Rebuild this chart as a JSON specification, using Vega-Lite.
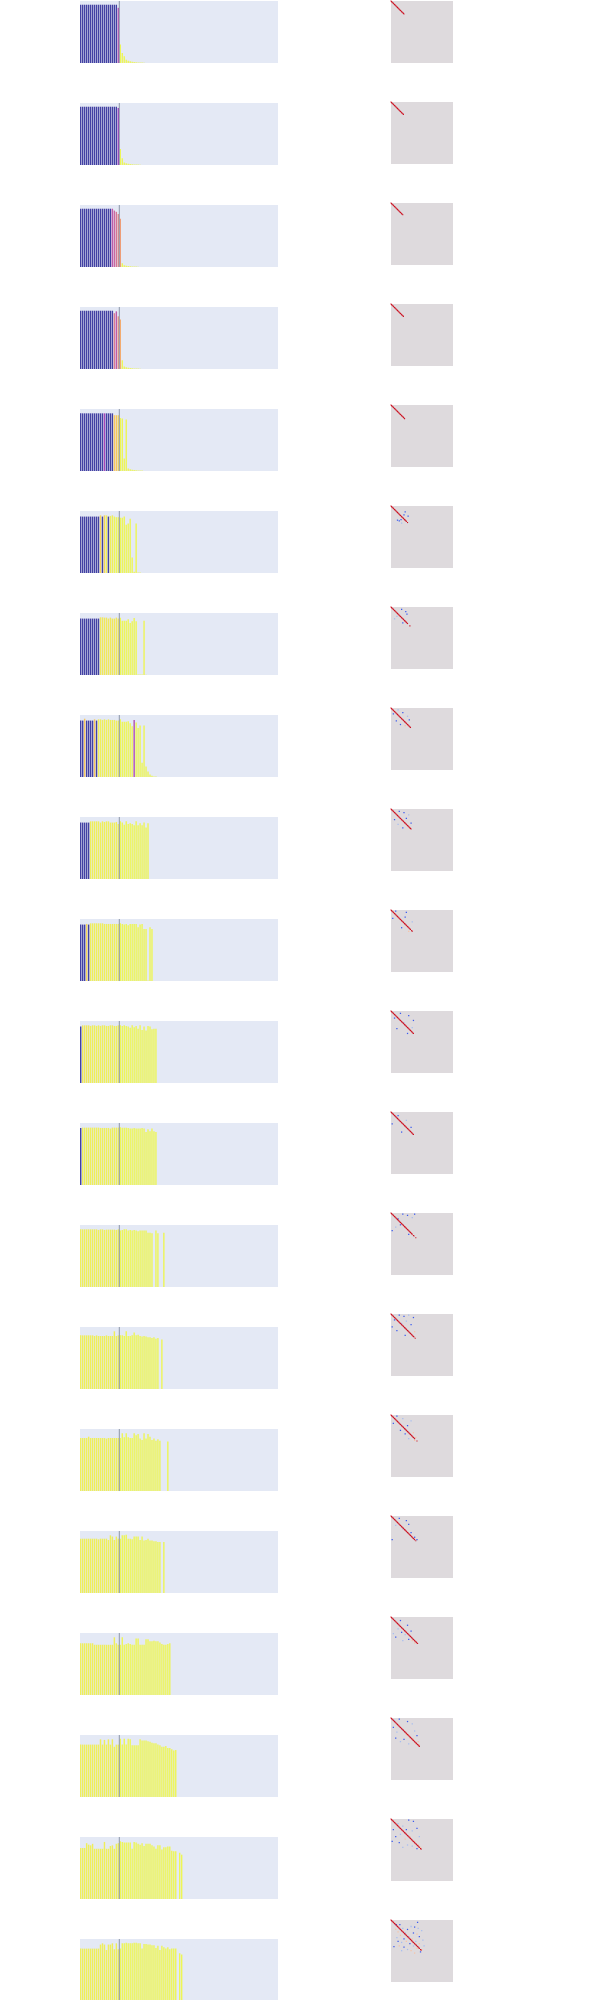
{
"$schema":"https://vega.github.io/schema/vega-lite/v6.json",
"background":"#ffffff",
"padding":{"left":80,"top":0,"right":0,"bottom":0},
"config":{"view":{"stroke":null}},
"resolve":{"scale":{"color":"independent"}},
"spacing":112,
"data":{"values":[
{"r":1,"i":0,"v":0.94,"c":0},{"r":1,"i":1,"v":0.94,"c":0},{"r":1,"i":2,"v":0.94,"c":0},{"r":1,"i":3,"v":0.94,"c":0},{"r":1,"i":4,"v":0.94,"c":0},{"r":1,"i":5,"v":0.94,"c":0},{"r":1,"i":6,"v":0.94,"c":0},{"r":1,"i":7,"v":0.94,"c":0},{"r":1,"i":8,"v":0.94,"c":0},{"r":1,"i":9,"v":0.94,"c":0},{"r":1,"i":10,"v":0.94,"c":0},{"r":1,"i":11,"v":0.94,"c":0},{"r":1,"i":12,"v":0.94,"c":0},{"r":1,"i":13,"v":0.94,"c":0},{"r":1,"i":14,"v":0.94,"c":0},{"r":1,"i":15,"v":0.94,"c":0},{"r":1,"i":16,"v":0.94,"c":0},{"r":1,"i":17,"v":0.94,"c":0},{"r":1,"i":18,"v":0.94,"c":0},{"r":1,"i":19,"v":0.89,"c":0.35},{"r":1,"i":20,"v":0.3,"c":1},{"r":1,"i":21,"v":0.16,"c":1},{"r":1,"i":22,"v":0.11,"c":1},{"r":1,"i":23,"v":0.054,"c":1},{"r":1,"i":24,"v":0.038,"c":1},{"r":1,"i":25,"v":0.027,"c":1},{"r":1,"i":26,"v":0.02,"c":1},{"r":1,"i":27,"v":0.016,"c":1},{"r":1,"i":28,"v":0.012,"c":1},{"r":1,"i":29,"v":0.01,"c":1},{"r":1,"i":30,"v":0.008,"c":1},{"r":1,"i":31,"v":0.007,"c":1},{"r":1,"i":32,"v":0.006,"c":1},
{"r":2,"i":0,"v":0.94,"c":0},{"r":2,"i":1,"v":0.94,"c":0},{"r":2,"i":2,"v":0.94,"c":0},{"r":2,"i":3,"v":0.94,"c":0},{"r":2,"i":4,"v":0.94,"c":0},{"r":2,"i":5,"v":0.94,"c":0},{"r":2,"i":6,"v":0.94,"c":0},{"r":2,"i":7,"v":0.94,"c":0},{"r":2,"i":8,"v":0.94,"c":0},{"r":2,"i":9,"v":0.94,"c":0},{"r":2,"i":10,"v":0.94,"c":0},{"r":2,"i":11,"v":0.94,"c":0},{"r":2,"i":12,"v":0.94,"c":0},{"r":2,"i":13,"v":0.94,"c":0},{"r":2,"i":14,"v":0.94,"c":0},{"r":2,"i":15,"v":0.94,"c":0},{"r":2,"i":16,"v":0.94,"c":0},{"r":2,"i":17,"v":0.94,"c":0},{"r":2,"i":18,"v":0.94,"c":0},{"r":2,"i":19,"v":0.92,"c":0.25},{"r":2,"i":20,"v":0.26,"c":1},{"r":2,"i":21,"v":0.11,"c":1},{"r":2,"i":22,"v":0.04,"c":1},{"r":2,"i":23,"v":0.027,"c":1},{"r":2,"i":24,"v":0.02,"c":1},{"r":2,"i":25,"v":0.015,"c":1},{"r":2,"i":26,"v":0.012,"c":1},{"r":2,"i":27,"v":0.01,"c":1},{"r":2,"i":28,"v":0.008,"c":1},{"r":2,"i":29,"v":0.007,"c":1},{"r":2,"i":30,"v":0.006,"c":1},
{"r":3,"i":0,"v":0.94,"c":0},{"r":3,"i":1,"v":0.94,"c":0},{"r":3,"i":2,"v":0.94,"c":0},{"r":3,"i":3,"v":0.94,"c":0},{"r":3,"i":4,"v":0.94,"c":0},{"r":3,"i":5,"v":0.94,"c":0},{"r":3,"i":6,"v":0.94,"c":0},{"r":3,"i":7,"v":0.94,"c":0},{"r":3,"i":8,"v":0.94,"c":0},{"r":3,"i":9,"v":0.94,"c":0},{"r":3,"i":10,"v":0.94,"c":0},{"r":3,"i":11,"v":0.94,"c":0},{"r":3,"i":12,"v":0.94,"c":0},{"r":3,"i":13,"v":0.94,"c":0},{"r":3,"i":14,"v":0.94,"c":0},{"r":3,"i":15,"v":0.94,"c":0},{"r":3,"i":16,"v":0.94,"c":0.4},{"r":3,"i":17,"v":0.91,"c":0.45},{"r":3,"i":18,"v":0.89,"c":0.52},{"r":3,"i":19,"v":0.855,"c":0.6},{"r":3,"i":20,"v":0.78,"c":0.7},{"r":3,"i":21,"v":0.06,"c":1},{"r":3,"i":22,"v":0.03,"c":1},{"r":3,"i":23,"v":0.02,"c":1},{"r":3,"i":24,"v":0.015,"c":1},{"r":3,"i":25,"v":0.012,"c":1},{"r":3,"i":26,"v":0.01,"c":1},{"r":3,"i":27,"v":0.008,"c":1},{"r":3,"i":28,"v":0.007,"c":1},{"r":3,"i":29,"v":0.006,"c":1},
{"r":4,"i":0,"v":0.94,"c":0},{"r":4,"i":1,"v":0.94,"c":0},{"r":4,"i":2,"v":0.94,"c":0},{"r":4,"i":3,"v":0.94,"c":0},{"r":4,"i":4,"v":0.94,"c":0},{"r":4,"i":5,"v":0.94,"c":0},{"r":4,"i":6,"v":0.94,"c":0},{"r":4,"i":7,"v":0.94,"c":0},{"r":4,"i":8,"v":0.94,"c":0},{"r":4,"i":9,"v":0.94,"c":0},{"r":4,"i":10,"v":0.94,"c":0},{"r":4,"i":11,"v":0.94,"c":0},{"r":4,"i":12,"v":0.94,"c":0},{"r":4,"i":13,"v":0.94,"c":0},{"r":4,"i":14,"v":0.94,"c":0},{"r":4,"i":15,"v":0.94,"c":0},{"r":4,"i":16,"v":0.94,"c":0},{"r":4,"i":17,"v":0.9,"c":0.55},{"r":4,"i":18,"v":0.93,"c":0.4},{"r":4,"i":19,"v":0.85,"c":0.65},{"r":4,"i":20,"v":0.8,"c":0.75},{"r":4,"i":21,"v":0.14,"c":1},{"r":4,"i":22,"v":0.04,"c":1},{"r":4,"i":23,"v":0.027,"c":1},{"r":4,"i":24,"v":0.02,"c":1},{"r":4,"i":25,"v":0.015,"c":1},{"r":4,"i":26,"v":0.012,"c":1},{"r":4,"i":27,"v":0.01,"c":1},{"r":4,"i":28,"v":0.008,"c":1},{"r":4,"i":29,"v":0.007,"c":1},{"r":4,"i":30,"v":0.006,"c":1},
{"r":5,"i":0,"v":0.93,"c":0},{"r":5,"i":1,"v":0.93,"c":0},{"r":5,"i":2,"v":0.93,"c":0},{"r":5,"i":3,"v":0.93,"c":0},{"r":5,"i":4,"v":0.93,"c":0},{"r":5,"i":5,"v":0.93,"c":0},{"r":5,"i":6,"v":0.93,"c":0},{"r":5,"i":7,"v":0.93,"c":0},{"r":5,"i":8,"v":0.93,"c":0},{"r":5,"i":9,"v":0.93,"c":0},{"r":5,"i":10,"v":0.93,"c":0},{"r":5,"i":11,"v":0.93,"c":0},{"r":5,"i":12,"v":0.93,"c":0.3},{"r":5,"i":13,"v":0.93,"c":0},{"r":5,"i":14,"v":0.93,"c":0},{"r":5,"i":15,"v":0.93,"c":0},{"r":5,"i":16,"v":0.93,"c":0},{"r":5,"i":17,"v":0.9,"c":0.85},{"r":5,"i":18,"v":0.9,"c":0.85},{"r":5,"i":19,"v":0.9,"c":0.9},{"r":5,"i":20,"v":0.855,"c":1},{"r":5,"i":21,"v":0.845,"c":1},{"r":5,"i":22,"v":0.2,"c":1},{"r":5,"i":23,"v":0.83,"c":1},{"r":5,"i":24,"v":0.04,"c":1},{"r":5,"i":25,"v":0.027,"c":1},{"r":5,"i":26,"v":0.02,"c":1},{"r":5,"i":27,"v":0.015,"c":1},{"r":5,"i":28,"v":0.012,"c":1},{"r":5,"i":29,"v":0.01,"c":1},{"r":5,"i":30,"v":0.008,"c":1},{"r":5,"i":31,"v":0.007,"c":1},
{"r":6,"i":0,"v":0.91,"c":0},{"r":6,"i":1,"v":0.91,"c":0},{"r":6,"i":2,"v":0.91,"c":0},{"r":6,"i":3,"v":0.91,"c":0},{"r":6,"i":4,"v":0.91,"c":0},{"r":6,"i":5,"v":0.91,"c":0},{"r":6,"i":6,"v":0.91,"c":0},{"r":6,"i":7,"v":0.91,"c":0},{"r":6,"i":8,"v":0.91,"c":0},{"r":6,"i":9,"v":0.91,"c":0},{"r":6,"i":10,"v":0.93,"c":0.9},{"r":6,"i":11,"v":0.91,"c":0},{"r":6,"i":12,"v":0.93,"c":0.9},{"r":6,"i":13,"v":0.93,"c":0.98},{"r":6,"i":14,"v":0.91,"c":0},{"r":6,"i":15,"v":0.92,"c":0.98},{"r":6,"i":16,"v":0.93,"c":0.98},{"r":6,"i":17,"v":0.91,"c":1},{"r":6,"i":18,"v":0.9,"c":1},{"r":6,"i":19,"v":0.9,"c":1},{"r":6,"i":20,"v":0.89,"c":1},{"r":6,"i":21,"v":0.89,"c":1},{"r":6,"i":22,"v":0.91,"c":1},{"r":6,"i":23,"v":0.78,"c":1},{"r":6,"i":24,"v":0.8,"c":1},{"r":6,"i":25,"v":0.876,"c":1},{"r":6,"i":26,"v":0.25,"c":1},{"r":6,"i":27,"v":0.02,"c":1},{"r":6,"i":28,"v":0.8,"c":1},{"r":6,"i":29,"v":0.01,"c":1},{"r":6,"i":30,"v":0.008,"c":1},
{"r":7,"i":0,"v":0.91,"c":0},{"r":7,"i":1,"v":0.91,"c":0},{"r":7,"i":2,"v":0.91,"c":0},{"r":7,"i":3,"v":0.91,"c":0},{"r":7,"i":4,"v":0.91,"c":0},{"r":7,"i":5,"v":0.91,"c":0},{"r":7,"i":6,"v":0.91,"c":0},{"r":7,"i":7,"v":0.91,"c":0},{"r":7,"i":8,"v":0.91,"c":0},{"r":7,"i":9,"v":0.91,"c":0},{"r":7,"i":10,"v":0.93,"c":0.96},{"r":7,"i":11,"v":0.93,"c":0.96},{"r":7,"i":12,"v":0.925,"c":0.96},{"r":7,"i":13,"v":0.925,"c":0.96},{"r":7,"i":14,"v":0.91,"c":0.96},{"r":7,"i":15,"v":0.925,"c":0.96},{"r":7,"i":16,"v":0.91,"c":0.96},{"r":7,"i":17,"v":0.91,"c":0.96},{"r":7,"i":18,"v":0.925,"c":0.96},{"r":7,"i":19,"v":0.91,"c":0.96},{"r":7,"i":20,"v":0.925,"c":1},{"r":7,"i":21,"v":0.876,"c":1},{"r":7,"i":22,"v":0.876,"c":1},{"r":7,"i":23,"v":0.876,"c":1},{"r":7,"i":24,"v":0.9,"c":1},{"r":7,"i":25,"v":0.84,"c":1},{"r":7,"i":26,"v":0.865,"c":1},{"r":7,"i":27,"v":0.92,"c":1},{"r":7,"i":28,"v":0.865,"c":1},{"r":7,"i":29,"v":0.01,"c":1},{"r":7,"i":30,"v":0.01,"c":1},{"r":7,"i":31,"v":0.008,"c":1},{"r":7,"i":32,"v":0.876,"c":1},{"r":7,"i":33,"v":0.005,"c":1},
{"r":8,"i":0,"v":0.91,"c":0},{"r":8,"i":1,"v":0.91,"c":0},{"r":8,"i":2,"v":0.94,"c":0.85},{"r":8,"i":3,"v":0.91,"c":0},{"r":8,"i":4,"v":0.91,"c":0},{"r":8,"i":5,"v":0.91,"c":0},{"r":8,"i":6,"v":0.91,"c":0},{"r":8,"i":7,"v":0.93,"c":0.85},{"r":8,"i":8,"v":0.91,"c":0},{"r":8,"i":9,"v":0.93,"c":0.98},{"r":8,"i":10,"v":0.93,"c":0.98},{"r":8,"i":11,"v":0.92,"c":0.98},{"r":8,"i":12,"v":0.93,"c":0.98},{"r":8,"i":13,"v":0.92,"c":0.98},{"r":8,"i":14,"v":0.93,"c":0.98},{"r":8,"i":15,"v":0.92,"c":0.98},{"r":8,"i":16,"v":0.92,"c":0.98},{"r":8,"i":17,"v":0.92,"c":0.98},{"r":8,"i":18,"v":0.91,"c":0.98},{"r":8,"i":19,"v":0.91,"c":0.98},{"r":8,"i":20,"v":0.93,"c":1},{"r":8,"i":21,"v":0.89,"c":1},{"r":8,"i":22,"v":0.89,"c":1},{"r":8,"i":23,"v":0.89,"c":1},{"r":8,"i":24,"v":0.9,"c":1},{"r":8,"i":25,"v":0.865,"c":1},{"r":8,"i":26,"v":0.82,"c":1},{"r":8,"i":27,"v":0.92,"c":0.35},{"r":8,"i":28,"v":0.88,"c":1},{"r":8,"i":29,"v":0.79,"c":1},{"r":8,"i":30,"v":0.83,"c":1},{"r":8,"i":31,"v":0.23,"c":1},{"r":8,"i":32,"v":0.83,"c":1},{"r":8,"i":33,"v":0.17,"c":1},{"r":8,"i":34,"v":0.09,"c":1},{"r":8,"i":35,"v":0.04,"c":1},{"r":8,"i":36,"v":0.02,"c":1},{"r":8,"i":37,"v":0.01,"c":1},{"r":8,"i":38,"v":0.008,"c":1},
{"r":9,"i":0,"v":0.91,"c":0},{"r":9,"i":1,"v":0.91,"c":0},{"r":9,"i":2,"v":0.91,"c":0},{"r":9,"i":3,"v":0.91,"c":0},{"r":9,"i":4,"v":0.91,"c":0},{"r":9,"i":5,"v":0.93,"c":0.98},{"r":9,"i":6,"v":0.93,"c":0.98},{"r":9,"i":7,"v":0.93,"c":0.98},{"r":9,"i":8,"v":0.93,"c":0.98},{"r":9,"i":9,"v":0.93,"c":0.98},{"r":9,"i":10,"v":0.91,"c":0.98},{"r":9,"i":11,"v":0.93,"c":0.98},{"r":9,"i":12,"v":0.92,"c":0.98},{"r":9,"i":13,"v":0.93,"c":0.98},{"r":9,"i":14,"v":0.93,"c":0.98},{"r":9,"i":15,"v":0.91,"c":0.98},{"r":9,"i":16,"v":0.91,"c":0.98},{"r":9,"i":17,"v":0.91,"c":0.98},{"r":9,"i":18,"v":0.92,"c":0.98},{"r":9,"i":19,"v":0.887,"c":0.98},{"r":9,"i":20,"v":0.93,"c":1},{"r":9,"i":21,"v":0.91,"c":1},{"r":9,"i":22,"v":0.876,"c":1},{"r":9,"i":23,"v":0.93,"c":1},{"r":9,"i":24,"v":0.887,"c":1},{"r":9,"i":25,"v":0.9,"c":1},{"r":9,"i":26,"v":0.887,"c":1},{"r":9,"i":27,"v":0.865,"c":1},{"r":9,"i":28,"v":0.93,"c":1},{"r":9,"i":29,"v":0.865,"c":1},{"r":9,"i":30,"v":0.9,"c":1},{"r":9,"i":31,"v":0.865,"c":1},{"r":9,"i":32,"v":0.91,"c":1},{"r":9,"i":33,"v":0.83,"c":1},{"r":9,"i":34,"v":0.9,"c":1},
{"r":10,"i":0,"v":0.91,"c":0},{"r":10,"i":1,"v":0.91,"c":0},{"r":10,"i":2,"v":0.91,"c":0},{"r":10,"i":3,"v":0.92,"c":0.9},{"r":10,"i":4,"v":0.91,"c":0},{"r":10,"i":5,"v":0.93,"c":0.98},{"r":10,"i":6,"v":0.93,"c":0.98},{"r":10,"i":7,"v":0.93,"c":0.98},{"r":10,"i":8,"v":0.93,"c":0.98},{"r":10,"i":9,"v":0.93,"c":0.98},{"r":10,"i":10,"v":0.93,"c":0.98},{"r":10,"i":11,"v":0.93,"c":0.98},{"r":10,"i":12,"v":0.92,"c":0.98},{"r":10,"i":13,"v":0.92,"c":0.98},{"r":10,"i":14,"v":0.92,"c":0.98},{"r":10,"i":15,"v":0.92,"c":0.98},{"r":10,"i":16,"v":0.92,"c":0.98},{"r":10,"i":17,"v":0.92,"c":0.98},{"r":10,"i":18,"v":0.92,"c":0.98},{"r":10,"i":19,"v":0.92,"c":0.98},{"r":10,"i":20,"v":0.93,"c":1},{"r":10,"i":21,"v":0.92,"c":1},{"r":10,"i":22,"v":0.91,"c":1},{"r":10,"i":23,"v":0.92,"c":1},{"r":10,"i":24,"v":0.9,"c":1},{"r":10,"i":25,"v":0.92,"c":1},{"r":10,"i":26,"v":0.92,"c":1},{"r":10,"i":27,"v":0.92,"c":1},{"r":10,"i":28,"v":0.92,"c":1},{"r":10,"i":29,"v":0.865,"c":1},{"r":10,"i":30,"v":0.91,"c":1},{"r":10,"i":31,"v":0.92,"c":1},{"r":10,"i":32,"v":0.84,"c":1},{"r":10,"i":33,"v":0.84,"c":1},{"r":10,"i":34,"v":0.01,"c":1},{"r":10,"i":35,"v":0.865,"c":1},{"r":10,"i":36,"v":0.84,"c":1},
{"r":11,"i":0,"v":0.91,"c":0},{"r":11,"i":1,"v":0.93,"c":0.96},{"r":11,"i":2,"v":0.93,"c":0.96},{"r":11,"i":3,"v":0.93,"c":0.96},{"r":11,"i":4,"v":0.93,"c":0.96},{"r":11,"i":5,"v":0.92,"c":0.98},{"r":11,"i":6,"v":0.93,"c":0.98},{"r":11,"i":7,"v":0.93,"c":0.98},{"r":11,"i":8,"v":0.92,"c":0.98},{"r":11,"i":9,"v":0.93,"c":0.98},{"r":11,"i":10,"v":0.92,"c":0.98},{"r":11,"i":11,"v":0.93,"c":0.98},{"r":11,"i":12,"v":0.93,"c":0.98},{"r":11,"i":13,"v":0.92,"c":0.98},{"r":11,"i":14,"v":0.92,"c":0.98},{"r":11,"i":15,"v":0.93,"c":0.98},{"r":11,"i":16,"v":0.93,"c":0.98},{"r":11,"i":17,"v":0.92,"c":0.98},{"r":11,"i":18,"v":0.92,"c":0.98},{"r":11,"i":19,"v":0.93,"c":0.98},{"r":11,"i":20,"v":0.93,"c":1},{"r":11,"i":21,"v":0.92,"c":1},{"r":11,"i":22,"v":0.93,"c":1},{"r":11,"i":23,"v":0.92,"c":1},{"r":11,"i":24,"v":0.91,"c":1},{"r":11,"i":25,"v":0.89,"c":1},{"r":11,"i":26,"v":0.93,"c":1},{"r":11,"i":27,"v":0.9,"c":1},{"r":11,"i":28,"v":0.92,"c":1},{"r":11,"i":29,"v":0.876,"c":1},{"r":11,"i":30,"v":0.93,"c":1},{"r":11,"i":31,"v":0.855,"c":1},{"r":11,"i":32,"v":0.91,"c":1},{"r":11,"i":33,"v":0.845,"c":1},{"r":11,"i":34,"v":0.92,"c":1},{"r":11,"i":35,"v":0.91,"c":1},{"r":11,"i":36,"v":0.865,"c":1},{"r":11,"i":37,"v":0.876,"c":1},{"r":11,"i":38,"v":0.876,"c":1},
{"r":12,"i":0,"v":0.92,"c":0},{"r":12,"i":1,"v":0.925,"c":0.98},{"r":12,"i":2,"v":0.925,"c":0.98},{"r":12,"i":3,"v":0.925,"c":0.98},{"r":12,"i":4,"v":0.925,"c":0.98},{"r":12,"i":5,"v":0.925,"c":0.98},{"r":12,"i":6,"v":0.925,"c":0.98},{"r":12,"i":7,"v":0.925,"c":0.98},{"r":12,"i":8,"v":0.925,"c":0.98},{"r":12,"i":9,"v":0.925,"c":0.98},{"r":12,"i":10,"v":0.92,"c":0.98},{"r":12,"i":11,"v":0.92,"c":0.98},{"r":12,"i":12,"v":0.92,"c":0.98},{"r":12,"i":13,"v":0.92,"c":0.98},{"r":12,"i":14,"v":0.92,"c":0.98},{"r":12,"i":15,"v":0.91,"c":0.98},{"r":12,"i":16,"v":0.925,"c":0.98},{"r":12,"i":17,"v":0.925,"c":0.98},{"r":12,"i":18,"v":0.925,"c":0.98},{"r":12,"i":19,"v":0.925,"c":0.98},{"r":12,"i":20,"v":0.93,"c":1},{"r":12,"i":21,"v":0.925,"c":1},{"r":12,"i":22,"v":0.925,"c":1},{"r":12,"i":23,"v":0.925,"c":1},{"r":12,"i":24,"v":0.92,"c":1},{"r":12,"i":25,"v":0.91,"c":1},{"r":12,"i":26,"v":0.91,"c":1},{"r":12,"i":27,"v":0.92,"c":1},{"r":12,"i":28,"v":0.91,"c":1},{"r":12,"i":29,"v":0.91,"c":1},{"r":12,"i":30,"v":0.91,"c":1},{"r":12,"i":31,"v":0.92,"c":1},{"r":12,"i":32,"v":0.91,"c":1},{"r":12,"i":33,"v":0.855,"c":1},{"r":12,"i":34,"v":0.9,"c":1},{"r":12,"i":35,"v":0.865,"c":1},{"r":12,"i":36,"v":0.91,"c":1},{"r":12,"i":37,"v":0.865,"c":1},{"r":12,"i":38,"v":0.855,"c":1},
{"r":13,"i":0,"v":0.93,"c":0.98},{"r":13,"i":1,"v":0.93,"c":0.98},{"r":13,"i":2,"v":0.93,"c":0.98},{"r":13,"i":3,"v":0.93,"c":0.98},{"r":13,"i":4,"v":0.93,"c":0.98},{"r":13,"i":5,"v":0.93,"c":0.98},{"r":13,"i":6,"v":0.93,"c":0.98},{"r":13,"i":7,"v":0.93,"c":0.98},{"r":13,"i":8,"v":0.93,"c":0.98},{"r":13,"i":9,"v":0.92,"c":0.98},{"r":13,"i":10,"v":0.93,"c":0.98},{"r":13,"i":11,"v":0.93,"c":0.98},{"r":13,"i":12,"v":0.92,"c":0.98},{"r":13,"i":13,"v":0.925,"c":0.98},{"r":13,"i":14,"v":0.925,"c":0.98},{"r":13,"i":15,"v":0.925,"c":0.98},{"r":13,"i":16,"v":0.925,"c":0.98},{"r":13,"i":17,"v":0.925,"c":0.98},{"r":13,"i":18,"v":0.92,"c":0.98},{"r":13,"i":19,"v":0.93,"c":0.98},{"r":13,"i":20,"v":0.91,"c":1},{"r":13,"i":21,"v":0.92,"c":1},{"r":13,"i":22,"v":0.93,"c":1},{"r":13,"i":23,"v":0.93,"c":1},{"r":13,"i":24,"v":0.91,"c":1},{"r":13,"i":25,"v":0.92,"c":1},{"r":13,"i":26,"v":0.91,"c":1},{"r":13,"i":27,"v":0.92,"c":1},{"r":13,"i":28,"v":0.91,"c":1},{"r":13,"i":29,"v":0.9,"c":1},{"r":13,"i":30,"v":0.91,"c":1},{"r":13,"i":31,"v":0.91,"c":1},{"r":13,"i":32,"v":0.91,"c":1},{"r":13,"i":33,"v":0.91,"c":1},{"r":13,"i":34,"v":0.876,"c":1},{"r":13,"i":35,"v":0.876,"c":1},{"r":13,"i":36,"v":0.865,"c":1},{"r":13,"i":38,"v":0.91,"c":1},{"r":13,"i":39,"v":0.865,"c":1},{"r":13,"i":42,"v":0.876,"c":1},
{"r":14,"i":0,"v":0.865,"c":0.98},{"r":14,"i":1,"v":0.865,"c":0.98},{"r":14,"i":2,"v":0.865,"c":0.98},{"r":14,"i":3,"v":0.865,"c":0.98},{"r":14,"i":4,"v":0.865,"c":0.98},{"r":14,"i":5,"v":0.865,"c":0.98},{"r":14,"i":6,"v":0.865,"c":0.98},{"r":14,"i":7,"v":0.855,"c":0.98},{"r":14,"i":8,"v":0.865,"c":0.98},{"r":14,"i":9,"v":0.855,"c":0.98},{"r":14,"i":10,"v":0.855,"c":0.98},{"r":14,"i":11,"v":0.855,"c":0.98},{"r":14,"i":12,"v":0.855,"c":0.98},{"r":14,"i":13,"v":0.865,"c":0.98},{"r":14,"i":14,"v":0.855,"c":0.98},{"r":14,"i":15,"v":0.855,"c":0.98},{"r":14,"i":16,"v":0.855,"c":0.98},{"r":14,"i":17,"v":0.93,"c":0.98},{"r":14,"i":18,"v":0.855,"c":0.98},{"r":14,"i":19,"v":0.865,"c":0.98},{"r":14,"i":20,"v":0.865,"c":1},{"r":14,"i":21,"v":0.865,"c":1},{"r":14,"i":22,"v":0.855,"c":1},{"r":14,"i":23,"v":0.93,"c":1},{"r":14,"i":24,"v":0.855,"c":1},{"r":14,"i":25,"v":0.855,"c":1},{"r":14,"i":26,"v":0.865,"c":1},{"r":14,"i":27,"v":0.91,"c":1},{"r":14,"i":28,"v":0.865,"c":1},{"r":14,"i":29,"v":0.876,"c":1},{"r":14,"i":30,"v":0.855,"c":1},{"r":14,"i":31,"v":0.845,"c":1},{"r":14,"i":32,"v":0.855,"c":1},{"r":14,"i":33,"v":0.845,"c":1},{"r":14,"i":34,"v":0.834,"c":1},{"r":14,"i":35,"v":0.834,"c":1},{"r":14,"i":36,"v":0.823,"c":1},{"r":14,"i":37,"v":0.834,"c":1},{"r":14,"i":38,"v":0.81,"c":1},{"r":14,"i":39,"v":0.823,"c":1},{"r":14,"i":41,"v":0.8,"c":1},
{"r":15,"i":0,"v":0.855,"c":0.98},{"r":15,"i":1,"v":0.855,"c":0.98},{"r":15,"i":2,"v":0.855,"c":0.98},{"r":15,"i":3,"v":0.855,"c":0.98},{"r":15,"i":4,"v":0.876,"c":0.98},{"r":15,"i":5,"v":0.855,"c":0.98},{"r":15,"i":6,"v":0.855,"c":0.98},{"r":15,"i":7,"v":0.855,"c":0.98},{"r":15,"i":8,"v":0.855,"c":0.98},{"r":15,"i":9,"v":0.855,"c":0.98},{"r":15,"i":10,"v":0.855,"c":0.98},{"r":15,"i":11,"v":0.855,"c":0.98},{"r":15,"i":12,"v":0.855,"c":0.98},{"r":15,"i":13,"v":0.845,"c":0.98},{"r":15,"i":14,"v":0.855,"c":0.98},{"r":15,"i":15,"v":0.855,"c":0.98},{"r":15,"i":16,"v":0.855,"c":0.98},{"r":15,"i":17,"v":0.855,"c":0.98},{"r":15,"i":18,"v":0.855,"c":0.98},{"r":15,"i":19,"v":0.855,"c":0.98},{"r":15,"i":20,"v":0.855,"c":1},{"r":15,"i":21,"v":0.93,"c":1},{"r":15,"i":22,"v":0.865,"c":1},{"r":15,"i":23,"v":0.93,"c":1},{"r":15,"i":24,"v":0.865,"c":1},{"r":15,"i":25,"v":0.855,"c":1},{"r":15,"i":26,"v":0.855,"c":1},{"r":15,"i":27,"v":0.93,"c":1},{"r":15,"i":28,"v":0.9,"c":1},{"r":15,"i":29,"v":0.92,"c":1},{"r":15,"i":30,"v":0.845,"c":1},{"r":15,"i":31,"v":0.823,"c":1},{"r":15,"i":32,"v":0.93,"c":1},{"r":15,"i":33,"v":0.845,"c":1},{"r":15,"i":34,"v":0.92,"c":1},{"r":15,"i":35,"v":0.876,"c":1},{"r":15,"i":36,"v":0.823,"c":1},{"r":15,"i":37,"v":0.845,"c":1},{"r":15,"i":38,"v":0.81,"c":1},{"r":15,"i":39,"v":0.834,"c":1},{"r":15,"i":40,"v":0.81,"c":1},{"r":15,"i":44,"v":0.8,"c":1},
{"r":16,"i":0,"v":0.876,"c":0.98},{"r":16,"i":1,"v":0.876,"c":0.98},{"r":16,"i":2,"v":0.876,"c":0.98},{"r":16,"i":3,"v":0.876,"c":0.98},{"r":16,"i":4,"v":0.876,"c":0.98},{"r":16,"i":5,"v":0.876,"c":0.98},{"r":16,"i":6,"v":0.876,"c":0.98},{"r":16,"i":7,"v":0.876,"c":0.98},{"r":16,"i":8,"v":0.876,"c":0.98},{"r":16,"i":9,"v":0.865,"c":0.98},{"r":16,"i":10,"v":0.876,"c":0.98},{"r":16,"i":11,"v":0.876,"c":0.98},{"r":16,"i":12,"v":0.876,"c":0.98},{"r":16,"i":13,"v":0.876,"c":0.98},{"r":16,"i":14,"v":0.855,"c":0.98},{"r":16,"i":15,"v":0.93,"c":0.98},{"r":16,"i":16,"v":0.91,"c":0.98},{"r":16,"i":17,"v":0.855,"c":0.98},{"r":16,"i":18,"v":0.91,"c":0.98},{"r":16,"i":19,"v":0.876,"c":0.98},{"r":16,"i":20,"v":0.876,"c":1},{"r":16,"i":21,"v":0.93,"c":1},{"r":16,"i":22,"v":0.93,"c":1},{"r":16,"i":23,"v":0.94,"c":1},{"r":16,"i":24,"v":0.876,"c":1},{"r":16,"i":25,"v":0.876,"c":1},{"r":16,"i":26,"v":0.865,"c":1},{"r":16,"i":27,"v":0.91,"c":1},{"r":16,"i":28,"v":0.91,"c":1},{"r":16,"i":29,"v":0.91,"c":1},{"r":16,"i":30,"v":0.855,"c":1},{"r":16,"i":31,"v":0.91,"c":1},{"r":16,"i":32,"v":0.845,"c":1},{"r":16,"i":33,"v":0.855,"c":1},{"r":16,"i":34,"v":0.876,"c":1},{"r":16,"i":35,"v":0.845,"c":1},{"r":16,"i":36,"v":0.845,"c":1},{"r":16,"i":37,"v":0.834,"c":1},{"r":16,"i":38,"v":0.834,"c":1},{"r":16,"i":39,"v":0.823,"c":1},{"r":16,"i":40,"v":0.823,"c":1},{"r":16,"i":42,"v":0.823,"c":1},
{"r":17,"i":0,"v":0.834,"c":0.98},{"r":17,"i":1,"v":0.834,"c":0.98},{"r":17,"i":2,"v":0.834,"c":0.98},{"r":17,"i":3,"v":0.834,"c":0.98},{"r":17,"i":4,"v":0.834,"c":0.98},{"r":17,"i":5,"v":0.834,"c":0.98},{"r":17,"i":6,"v":0.834,"c":0.98},{"r":17,"i":7,"v":0.81,"c":0.98},{"r":17,"i":8,"v":0.81,"c":0.98},{"r":17,"i":9,"v":0.81,"c":0.98},{"r":17,"i":10,"v":0.81,"c":0.98},{"r":17,"i":11,"v":0.81,"c":0.98},{"r":17,"i":12,"v":0.81,"c":0.98},{"r":17,"i":13,"v":0.81,"c":0.98},{"r":17,"i":14,"v":0.81,"c":0.98},{"r":17,"i":15,"v":0.81,"c":0.98},{"r":17,"i":16,"v":0.81,"c":0.98},{"r":17,"i":17,"v":0.93,"c":0.98},{"r":17,"i":18,"v":0.834,"c":0.98},{"r":17,"i":19,"v":0.81,"c":0.98},{"r":17,"i":20,"v":0.81,"c":1},{"r":17,"i":21,"v":0.93,"c":1},{"r":17,"i":22,"v":0.81,"c":1},{"r":17,"i":23,"v":0.823,"c":1},{"r":17,"i":24,"v":0.834,"c":1},{"r":17,"i":25,"v":0.823,"c":1},{"r":17,"i":26,"v":0.81,"c":1},{"r":17,"i":27,"v":0.81,"c":1},{"r":17,"i":28,"v":0.91,"c":1},{"r":17,"i":29,"v":0.91,"c":1},{"r":17,"i":30,"v":0.81,"c":1},{"r":17,"i":31,"v":0.81,"c":1},{"r":17,"i":32,"v":0.81,"c":1},{"r":17,"i":33,"v":0.9,"c":1},{"r":17,"i":34,"v":0.9,"c":1},{"r":17,"i":35,"v":0.865,"c":1},{"r":17,"i":36,"v":0.865,"c":1},{"r":17,"i":37,"v":0.876,"c":1},{"r":17,"i":38,"v":0.865,"c":1},{"r":17,"i":39,"v":0.865,"c":1},{"r":17,"i":40,"v":0.845,"c":1},{"r":17,"i":41,"v":0.823,"c":1},{"r":17,"i":42,"v":0.81,"c":1},{"r":17,"i":43,"v":0.81,"c":1},{"r":17,"i":44,"v":0.823,"c":1},{"r":17,"i":45,"v":0.834,"c":1},
{"r":18,"i":0,"v":0.845,"c":0.98},{"r":18,"i":1,"v":0.845,"c":0.98},{"r":18,"i":2,"v":0.845,"c":0.98},{"r":18,"i":3,"v":0.845,"c":0.98},{"r":18,"i":4,"v":0.845,"c":0.98},{"r":18,"i":5,"v":0.845,"c":0.98},{"r":18,"i":6,"v":0.845,"c":0.98},{"r":18,"i":7,"v":0.845,"c":0.98},{"r":18,"i":8,"v":0.845,"c":0.98},{"r":18,"i":9,"v":0.845,"c":0.98},{"r":18,"i":10,"v":0.93,"c":0.98},{"r":18,"i":11,"v":0.845,"c":0.98},{"r":18,"i":12,"v":0.92,"c":0.98},{"r":18,"i":13,"v":0.845,"c":0.98},{"r":18,"i":14,"v":0.93,"c":0.98},{"r":18,"i":15,"v":0.845,"c":0.98},{"r":18,"i":16,"v":0.93,"c":0.98},{"r":18,"i":17,"v":0.81,"c":0.98},{"r":18,"i":18,"v":0.845,"c":0.98},{"r":18,"i":19,"v":0.845,"c":0.98},{"r":18,"i":20,"v":0.94,"c":1},{"r":18,"i":21,"v":0.845,"c":1},{"r":18,"i":22,"v":0.94,"c":1},{"r":18,"i":23,"v":0.845,"c":1},{"r":18,"i":24,"v":0.94,"c":1},{"r":18,"i":25,"v":0.93,"c":1},{"r":18,"i":26,"v":0.834,"c":1},{"r":18,"i":27,"v":0.834,"c":1},{"r":18,"i":28,"v":0.834,"c":1},{"r":18,"i":29,"v":0.834,"c":1},{"r":18,"i":30,"v":0.93,"c":1},{"r":18,"i":31,"v":0.91,"c":1},{"r":18,"i":32,"v":0.91,"c":1},{"r":18,"i":33,"v":0.91,"c":1},{"r":18,"i":34,"v":0.9,"c":1},{"r":18,"i":35,"v":0.89,"c":1},{"r":18,"i":36,"v":0.876,"c":1},{"r":18,"i":37,"v":0.865,"c":1},{"r":18,"i":38,"v":0.865,"c":1},{"r":18,"i":39,"v":0.845,"c":1},{"r":18,"i":40,"v":0.834,"c":1},{"r":18,"i":41,"v":0.81,"c":1},{"r":18,"i":42,"v":0.81,"c":1},{"r":18,"i":43,"v":0.823,"c":1},{"r":18,"i":44,"v":0.79,"c":1},{"r":18,"i":45,"v":0.79,"c":1},{"r":18,"i":46,"v":0.77,"c":1},{"r":18,"i":47,"v":0.75,"c":1},{"r":18,"i":48,"v":0.76,"c":1},
{"r":19,"i":0,"v":0.823,"c":0.98},{"r":19,"i":1,"v":0.823,"c":0.98},{"r":19,"i":2,"v":0.823,"c":0.98},{"r":19,"i":3,"v":0.9,"c":0.98},{"r":19,"i":4,"v":0.876,"c":0.98},{"r":19,"i":5,"v":0.865,"c":0.98},{"r":19,"i":6,"v":0.89,"c":0.98},{"r":19,"i":7,"v":0.81,"c":0.98},{"r":19,"i":8,"v":0.81,"c":0.98},{"r":19,"i":9,"v":0.81,"c":0.98},{"r":19,"i":10,"v":0.81,"c":0.98},{"r":19,"i":11,"v":0.81,"c":0.98},{"r":19,"i":12,"v":0.92,"c":0.98},{"r":19,"i":13,"v":0.81,"c":0.98},{"r":19,"i":14,"v":0.81,"c":0.98},{"r":19,"i":15,"v":0.855,"c":0.98},{"r":19,"i":16,"v":0.865,"c":0.98},{"r":19,"i":17,"v":0.81,"c":0.98},{"r":19,"i":18,"v":0.89,"c":0.98},{"r":19,"i":19,"v":0.9,"c":0.98},{"r":19,"i":20,"v":0.93,"c":1},{"r":19,"i":21,"v":0.92,"c":1},{"r":19,"i":22,"v":0.91,"c":1},{"r":19,"i":23,"v":0.91,"c":1},{"r":19,"i":24,"v":0.91,"c":1},{"r":19,"i":25,"v":0.91,"c":1},{"r":19,"i":26,"v":0.81,"c":1},{"r":19,"i":27,"v":0.92,"c":1},{"r":19,"i":28,"v":0.91,"c":1},{"r":19,"i":29,"v":0.89,"c":1},{"r":19,"i":30,"v":0.876,"c":1},{"r":19,"i":31,"v":0.9,"c":1},{"r":19,"i":32,"v":0.855,"c":1},{"r":19,"i":33,"v":0.89,"c":1},{"r":19,"i":34,"v":0.89,"c":1},{"r":19,"i":35,"v":0.89,"c":1},{"r":19,"i":36,"v":0.865,"c":1},{"r":19,"i":37,"v":0.845,"c":1},{"r":19,"i":38,"v":0.81,"c":1},{"r":19,"i":39,"v":0.865,"c":1},{"r":19,"i":40,"v":0.865,"c":1},{"r":19,"i":41,"v":0.8,"c":1},{"r":19,"i":42,"v":0.834,"c":1},{"r":19,"i":43,"v":0.834,"c":1},{"r":19,"i":44,"v":0.845,"c":1},{"r":19,"i":45,"v":0.845,"c":1},{"r":19,"i":46,"v":0.78,"c":1},{"r":19,"i":47,"v":0.77,"c":1},{"r":19,"i":48,"v":0.77,"c":1},{"r":19,"i":50,"v":0.747,"c":1},{"r":19,"i":51,"v":0.715,"c":1},
{"r":20,"i":0,"v":0.845,"c":0.98},{"r":20,"i":1,"v":0.845,"c":0.98},{"r":20,"i":2,"v":0.845,"c":0.98},{"r":20,"i":3,"v":0.845,"c":0.98},{"r":20,"i":4,"v":0.845,"c":0.98},{"r":20,"i":5,"v":0.845,"c":0.98},{"r":20,"i":6,"v":0.845,"c":0.98},{"r":20,"i":7,"v":0.845,"c":0.98},{"r":20,"i":8,"v":0.845,"c":0.98},{"r":20,"i":9,"v":0.845,"c":0.98},{"r":20,"i":10,"v":0.91,"c":0.98},{"r":20,"i":11,"v":0.93,"c":0.98},{"r":20,"i":12,"v":0.91,"c":0.98},{"r":20,"i":13,"v":0.823,"c":0.98},{"r":20,"i":14,"v":0.91,"c":0.98},{"r":20,"i":15,"v":0.91,"c":0.98},{"r":20,"i":16,"v":0.93,"c":0.98},{"r":20,"i":17,"v":0.834,"c":0.98},{"r":20,"i":18,"v":0.93,"c":0.98},{"r":20,"i":19,"v":0.834,"c":0.98},{"r":20,"i":20,"v":0.845,"c":1},{"r":20,"i":21,"v":0.93,"c":1},{"r":20,"i":22,"v":0.93,"c":1},{"r":20,"i":23,"v":0.94,"c":1},{"r":20,"i":24,"v":0.93,"c":1},{"r":20,"i":25,"v":0.93,"c":1},{"r":20,"i":26,"v":0.93,"c":1},{"r":20,"i":27,"v":0.94,"c":1},{"r":20,"i":28,"v":0.94,"c":1},{"r":20,"i":29,"v":0.93,"c":1},{"r":20,"i":30,"v":0.93,"c":1},{"r":20,"i":31,"v":0.845,"c":1},{"r":20,"i":32,"v":0.92,"c":1},{"r":20,"i":33,"v":0.92,"c":1},{"r":20,"i":34,"v":0.91,"c":1},{"r":20,"i":35,"v":0.91,"c":1},{"r":20,"i":36,"v":0.9,"c":1},{"r":20,"i":37,"v":0.9,"c":1},{"r":20,"i":38,"v":0.855,"c":1},{"r":20,"i":39,"v":0.89,"c":1},{"r":20,"i":40,"v":0.823,"c":1},{"r":20,"i":41,"v":0.89,"c":1},{"r":20,"i":42,"v":0.865,"c":1},{"r":20,"i":43,"v":0.845,"c":1},{"r":20,"i":44,"v":0.865,"c":1},{"r":20,"i":45,"v":0.834,"c":1},{"r":20,"i":46,"v":0.845,"c":1},{"r":20,"i":47,"v":0.845,"c":1},{"r":20,"i":48,"v":0.845,"c":1},{"r":20,"i":50,"v":0.77,"c":1},{"r":20,"i":51,"v":0.75,"c":1},
{"r":6,"x":24,"y":10,"s":"b"},{"r":6,"x":22,"y":15,"s":"b"},{"r":6,"x":29,"y":17,"s":"b"},{"r":6,"x":11,"y":24,"s":"b"},{"r":6,"x":14,"y":25,"s":"b"},{"r":6,"x":17,"y":23,"s":"b"},{"r":6,"x":18,"y":29,"s":"l"},
{"r":7,"x":18,"y":4,"s":"b"},{"r":7,"x":25,"y":8,"s":"b"},{"r":7,"x":27,"y":12,"s":"b"},{"r":7,"x":10,"y":16,"s":"l"},{"r":7,"x":20,"y":27,"s":"b"},{"r":7,"x":6,"y":20,"s":"l"},
{"r":8,"x":4,"y":10,"s":"b"},{"r":8,"x":12,"y":3,"s":"l"},{"r":8,"x":20,"y":8,"s":"b"},{"r":8,"x":9,"y":22,"s":"b"},{"r":8,"x":28,"y":14,"s":"l"},{"r":8,"x":16,"y":28,"s":"b"},{"r":8,"x":31,"y":20,"s":"b"},{"r":8,"x":24,"y":30,"s":"o"},
{"r":9,"x":14,"y":4,"s":"b"},{"r":9,"x":22,"y":6,"s":"b"},{"r":9,"x":30,"y":10,"s":"l"},{"r":9,"x":6,"y":18,"s":"b"},{"r":9,"x":12,"y":26,"s":"l"},{"r":9,"x":26,"y":16,"s":"b"},{"r":9,"x":34,"y":24,"s":"b"},{"r":9,"x":20,"y":32,"s":"b"},{"r":9,"x":32,"y":33,"s":"o"},
{"r":10,"x":8,"y":2,"s":"b"},{"r":10,"x":26,"y":4,"s":"b"},{"r":10,"x":3,"y":14,"s":"b"},{"r":10,"x":36,"y":20,"s":"l"},{"r":10,"x":18,"y":30,"s":"b"},{"r":10,"x":30,"y":36,"s":"o"},{"r":10,"x":24,"y":12,"s":"b"},
{"r":11,"x":6,"y":12,"s":"b"},{"r":11,"x":16,"y":4,"s":"b"},{"r":11,"x":30,"y":8,"s":"b"},{"r":11,"x":22,"y":20,"s":"l"},{"r":11,"x":10,"y":30,"s":"b"},{"r":11,"x":36,"y":28,"s":"l"},{"r":11,"x":28,"y":38,"s":"b"},{"r":11,"x":38,"y":16,"s":"b"},
{"r":12,"x":12,"y":6,"s":"b"},{"r":12,"x":2,"y":20,"s":"b"},{"r":12,"x":26,"y":14,"s":"l"},{"r":12,"x":34,"y":26,"s":"b"},{"r":12,"x":18,"y":34,"s":"b"},{"r":12,"x":8,"y":8,"s":"l"},
{"r":13,"x":20,"y":2,"s":"b"},{"r":13,"x":28,"y":4,"s":"b"},{"r":13,"x":36,"y":8,"s":"l"},{"r":13,"x":40,"y":2,"s":"b"},{"r":13,"x":2,"y":30,"s":"b"},{"r":13,"x":8,"y":24,"s":"l"},{"r":13,"x":16,"y":20,"s":"b"},{"r":13,"x":30,"y":36,"s":"b"},{"r":13,"x":12,"y":10,"s":"b"},
{"r":14,"x":14,"y":2,"s":"b"},{"r":14,"x":22,"y":4,"s":"b"},{"r":14,"x":30,"y":2,"s":"l"},{"r":14,"x":38,"y":6,"s":"b"},{"r":14,"x":6,"y":10,"s":"b"},{"r":14,"x":26,"y":12,"s":"l"},{"r":14,"x":2,"y":22,"s":"b"},{"r":14,"x":10,"y":28,"s":"b"},{"r":14,"x":18,"y":16,"s":"l"},{"r":14,"x":34,"y":18,"s":"b"},{"r":14,"x":40,"y":30,"s":"o"},{"r":14,"x":24,"y":36,"s":"b"},
{"r":15,"x":10,"y":2,"s":"b"},{"r":15,"x":20,"y":6,"s":"l"},{"r":15,"x":4,"y":14,"s":"b"},{"r":15,"x":28,"y":18,"s":"b"},{"r":15,"x":34,"y":10,"s":"l"},{"r":15,"x":16,"y":26,"s":"b"},{"r":15,"x":38,"y":30,"s":"o"},{"r":15,"x":42,"y":38,"s":"o"},{"r":15,"x":30,"y":40,"s":"l"},{"r":15,"x":40,"y":43,"s":"o"},{"r":15,"x":24,"y":32,"s":"b"},
{"r":16,"x":2,"y":40,"s":"b"},{"r":16,"x":14,"y":4,"s":"b"},{"r":16,"x":26,"y":8,"s":"b"},{"r":16,"x":34,"y":28,"s":"b"},{"r":16,"x":40,"y":36,"s":"b"},{"r":16,"x":44,"y":40,"s":"b"},{"r":16,"x":8,"y":16,"s":"l"},{"r":16,"x":20,"y":22,"s":"l"},{"r":16,"x":30,"y":14,"s":"b"},
{"r":17,"x":12,"y":20,"s":"l"},{"r":17,"x":18,"y":26,"s":"b"},{"r":17,"x":24,"y":30,"s":"l"},{"r":17,"x":30,"y":38,"s":"b"},{"r":17,"x":36,"y":40,"s":"o"},{"r":17,"x":40,"y":44,"s":"o"},{"r":17,"x":8,"y":34,"s":"b"},{"r":17,"x":20,"y":40,"s":"l"},{"r":17,"x":28,"y":14,"s":"b"},{"r":17,"x":16,"y":6,"s":"b"},{"r":17,"x":4,"y":28,"s":"l"},{"r":17,"x":34,"y":24,"s":"b"},
{"r":18,"x":6,"y":4,"s":"l"},{"r":18,"x":14,"y":2,"s":"b"},{"r":18,"x":28,"y":6,"s":"b"},{"r":18,"x":36,"y":10,"s":"l"},{"r":18,"x":4,"y":16,"s":"b"},{"r":18,"x":10,"y":24,"s":"l"},{"r":18,"x":20,"y":20,"s":"l"},{"r":18,"x":26,"y":28,"s":"o"},{"r":18,"x":32,"y":34,"s":"o"},{"r":18,"x":38,"y":36,"s":"o"},{"r":18,"x":42,"y":44,"s":"o"},{"r":18,"x":46,"y":40,"s":"o"},{"r":18,"x":30,"y":44,"s":"l"},{"r":18,"x":22,"y":36,"s":"b"},{"r":18,"x":40,"y":22,"s":"l"},{"r":18,"x":44,"y":30,"s":"b"},{"r":18,"x":16,"y":40,"s":"l"},{"r":18,"x":48,"y":46,"s":"o"},{"r":18,"x":8,"y":34,"s":"b"},
{"r":19,"x":30,"y":2,"s":"b"},{"r":19,"x":38,"y":4,"s":"b"},{"r":19,"x":12,"y":8,"s":"l"},{"r":19,"x":4,"y":18,"s":"b"},{"r":19,"x":20,"y":12,"s":"l"},{"r":19,"x":26,"y":18,"s":"b"},{"r":19,"x":36,"y":20,"s":"l"},{"r":19,"x":44,"y":16,"s":"b"},{"r":19,"x":8,"y":30,"s":"b"},{"r":19,"x":16,"y":26,"s":"l"},{"r":19,"x":24,"y":34,"s":"o"},{"r":19,"x":32,"y":30,"s":"o"},{"r":19,"x":40,"y":38,"s":"o"},{"r":19,"x":46,"y":44,"s":"o"},{"r":19,"x":50,"y":48,"s":"o"},{"r":19,"x":14,"y":40,"s":"b"},{"r":19,"x":28,"y":44,"s":"l"},{"r":19,"x":36,"y":46,"s":"l"},{"r":19,"x":44,"y":50,"s":"b"},{"r":19,"x":48,"y":30,"s":"l"},{"r":19,"x":2,"y":38,"s":"b"},{"r":19,"x":20,"y":48,"s":"l"},
{"r":20,"x":45,"y":4,"s":"b"},{"r":20,"x":15,"y":8,"s":"b"},{"r":20,"x":9,"y":8,"s":"b"},{"r":20,"x":34,"y":11,"s":"l"},{"r":20,"x":40,"y":12,"s":"b"},{"r":20,"x":46,"y":14,"s":"l"},{"r":20,"x":20,"y":14,"s":"l"},{"r":20,"x":28,"y":16,"s":"b"},{"r":20,"x":52,"y":18,"s":"l"},{"r":20,"x":12,"y":20,"s":"o"},{"r":20,"x":24,"y":22,"s":"l"},{"r":20,"x":38,"y":22,"s":"b"},{"r":20,"x":44,"y":24,"s":"o"},{"r":20,"x":16,"y":26,"s":"o"},{"r":20,"x":30,"y":28,"s":"l"},{"r":20,"x":48,"y":28,"s":"b"},{"r":20,"x":10,"y":30,"s":"l"},{"r":20,"x":22,"y":32,"s":"b"},{"r":20,"x":36,"y":32,"s":"o"},{"r":20,"x":54,"y":34,"s":"l"},{"r":20,"x":26,"y":36,"s":"o"},{"r":20,"x":42,"y":36,"s":"l"},{"r":20,"x":5,"y":45,"s":"b"},{"r":20,"x":18,"y":38,"s":"l"},{"r":20,"x":32,"y":40,"s":"b"},{"r":20,"x":48,"y":40,"s":"o"},{"r":20,"x":14,"y":44,"s":"o"},{"r":20,"x":38,"y":44,"s":"l"},{"r":20,"x":22,"y":46,"s":"b"},{"r":20,"x":44,"y":48,"s":"o"},{"r":20,"x":28,"y":50,"s":"l"},{"r":20,"x":52,"y":50,"s":"o"},{"r":20,"x":34,"y":52,"s":"o"},{"r":20,"x":18,"y":52,"s":"l"},{"r":20,"x":50,"y":54,"s":"b"},{"r":20,"x":40,"y":56,"s":"o"},{"r":20,"x":56,"y":44,"s":"l"},{"r":20,"x":12,"y":36,"s":"b"},{"r":20,"x":8,"y":16,"s":"o"}
]},
"hconcat":[
{
"facet":{"row":{"field":"r","type":"ordinal","header":{"title":null,"labels":false}}},
"spacing":{"row":38},
"spec":{
"width":198,"height":62,
"view":{"fill":"#e4e9f5","stroke":null},
"layer":[
{"transform":[{"filter":"isValid(datum.i)"}],
"mark":{"type":"bar","width":1.4,"xOffset":0.7,"opacity":0.75},
"encoding":{
"x":{"field":"i","type":"quantitative","scale":{"domain":[0,100],"nice":false,"zero":true,"padding":0},"axis":null},
"y":{"field":"v","type":"quantitative","scale":{"domain":[0,1],"nice":false},"axis":null},
"color":{"field":"c","type":"quantitative","scale":{"scheme":"plasma","domain":[0,1]},"legend":null}}},
{"transform":[{"filter":"datum.i === 0"}],
"mark":{"type":"rule","color":"#8c96a9","strokeWidth":1},
"encoding":{"x":{"datum":19.85}}}
]}
},
{
"facet":{"row":{"field":"r","type":"ordinal","header":{"title":null,"labels":false}}},
"spacing":{"row":38},
"spec":{
"width":62,"height":62,
"view":{"fill":"#dedadd","stroke":null},
"layer":[
{"transform":[{"filter":"isValid(datum.x)"}],
"mark":{"type":"square","size":1.6,"opacity":1,"filled":true},
"encoding":{
"x":{"field":"x","type":"quantitative","scale":{"domain":[0,105],"nice":false,"padding":0},"axis":null},
"y":{"field":"y","type":"quantitative","scale":{"domain":[0,105],"nice":false,"reverse":true,"padding":0},"axis":null},
"color":{"field":"s","type":"nominal","scale":{"domain":["b","l","o"],"range":["#3b5bef","#a6bdf0","#f7c3a6"]},"legend":null}}},
{"transform":[{"filter":"datum.v > 0.1"}],
"mark":{"type":"square","size":1.2,"opacity":1,"filled":true,"color":"#cc1020"},
"encoding":{
"x":{"field":"i","type":"quantitative","axis":null},
"y":{"field":"i","type":"quantitative","axis":null}}}
]}
}
]
}
